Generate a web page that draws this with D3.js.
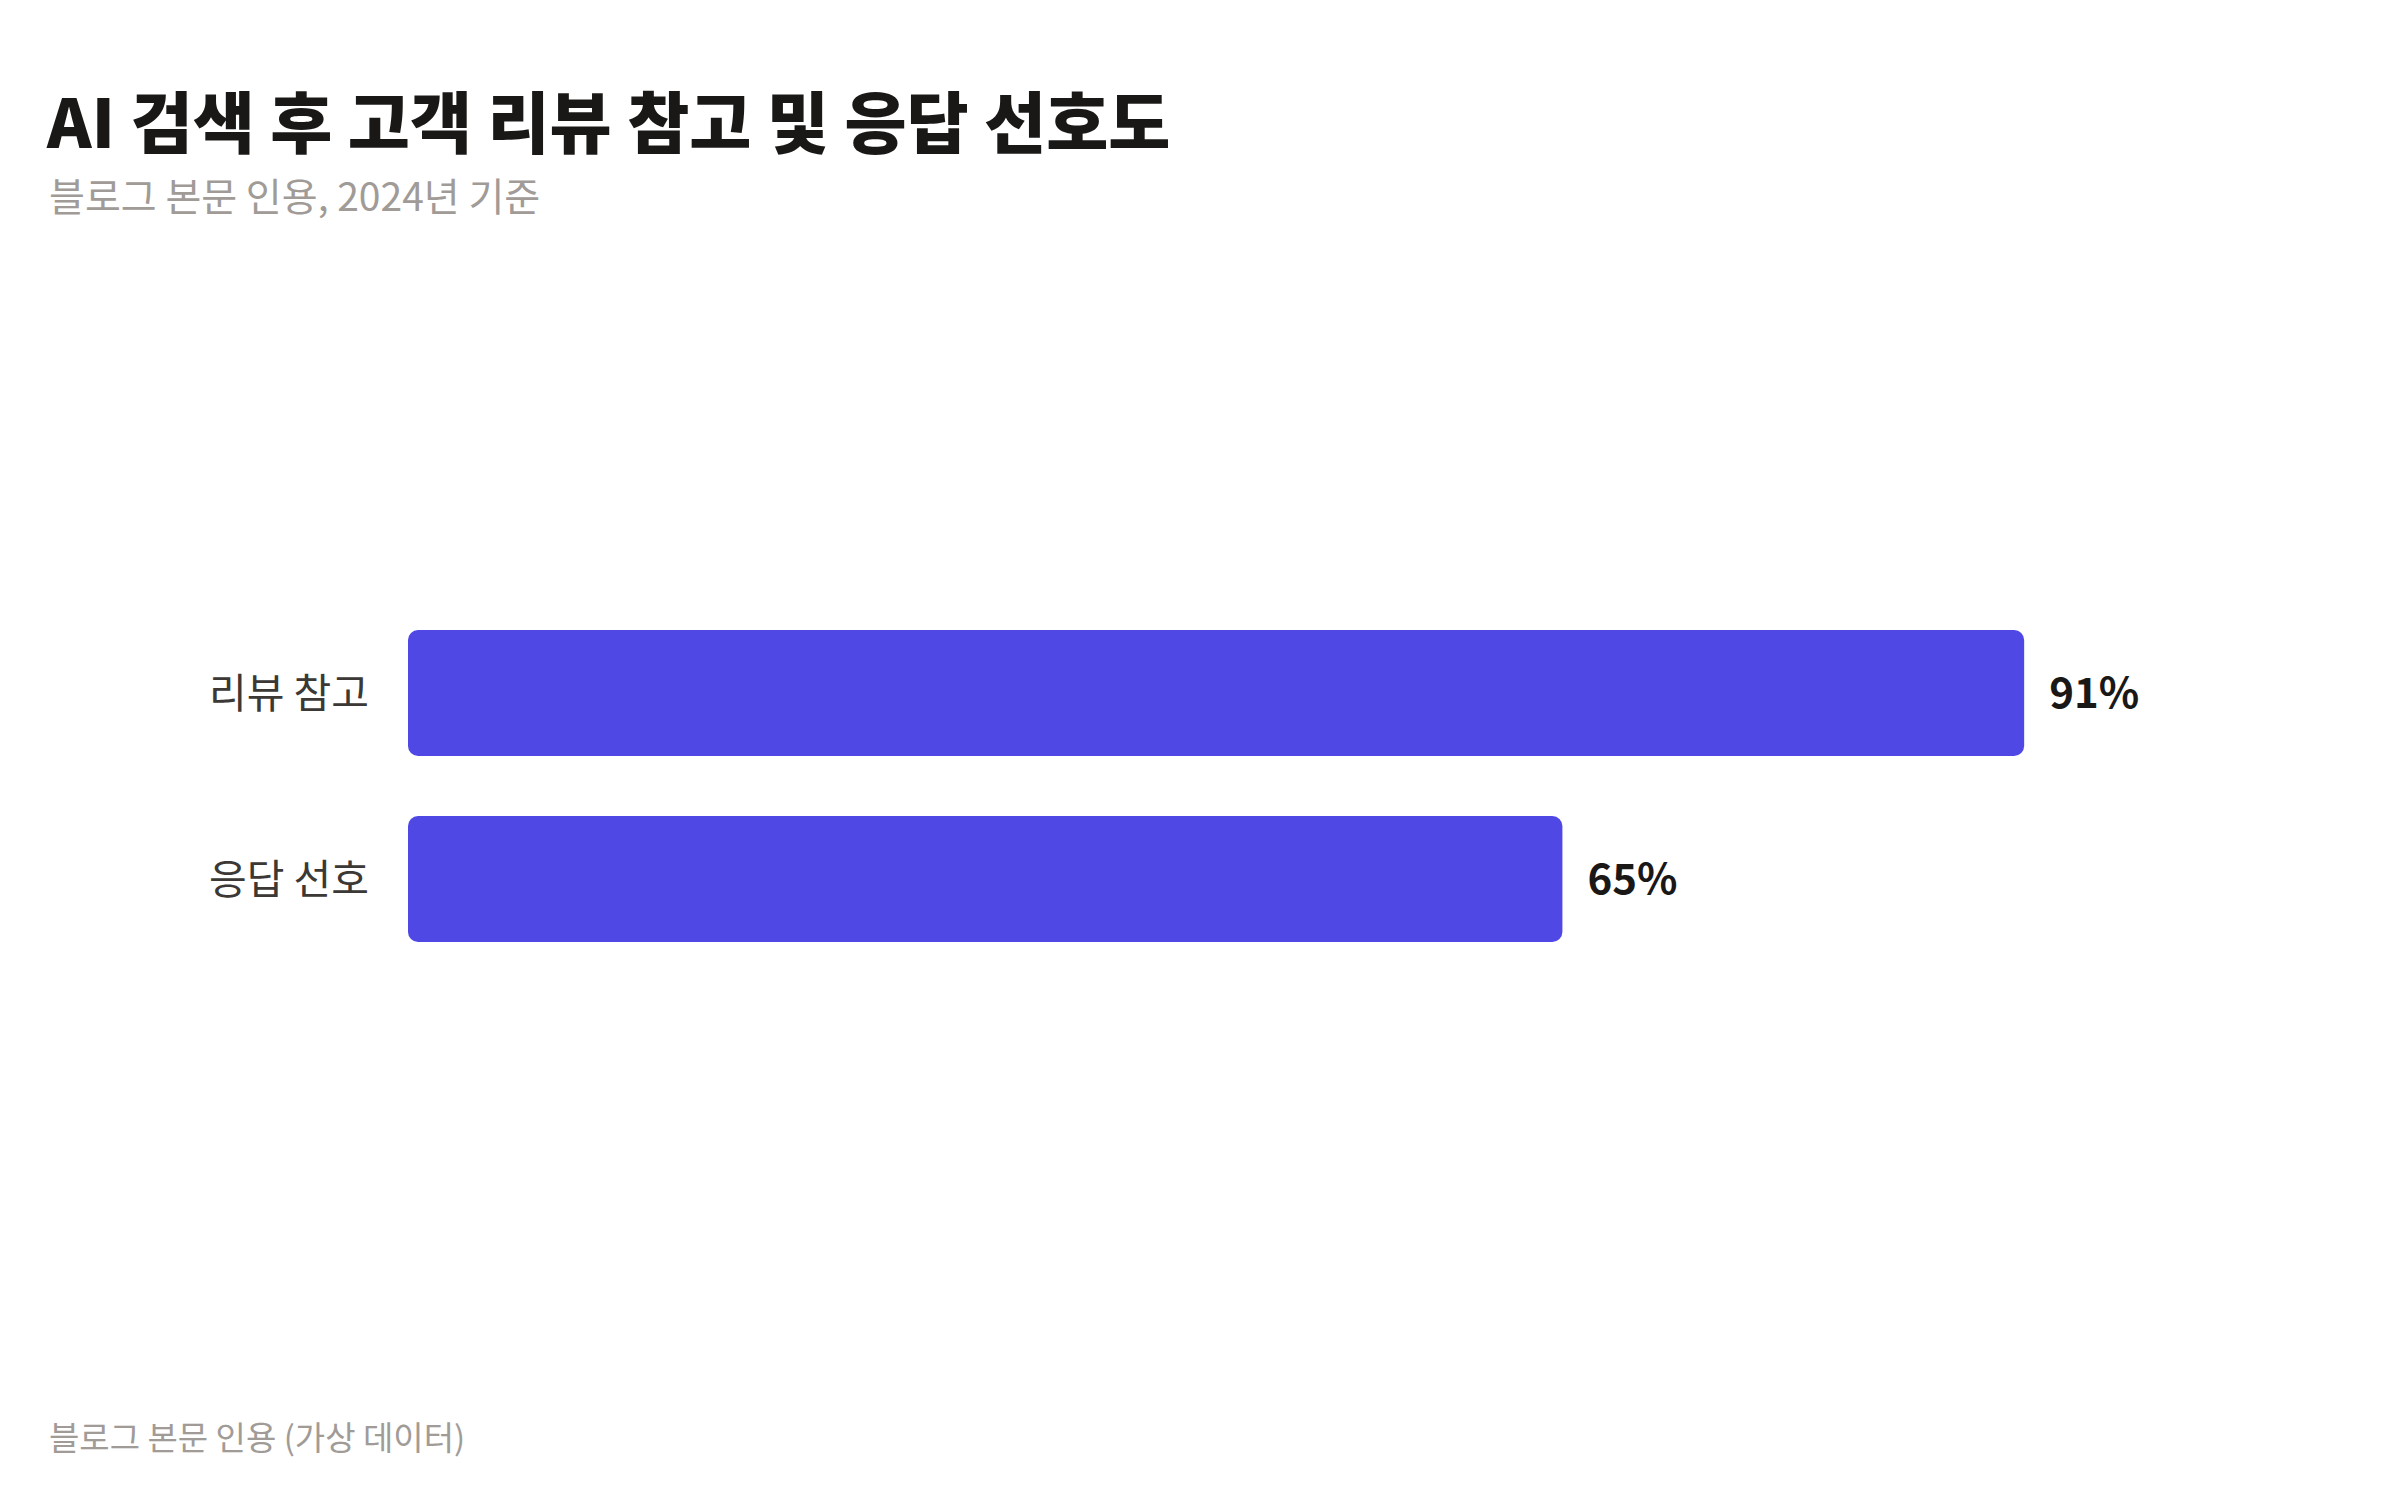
<!DOCTYPE html>
<html>
<head>
<meta charset="utf-8">
<script src="https://cdn.jsdelivr.net/npm/d3@7"></script>
<style>
  body { margin: 0; background: #fff; }
  text { font-family: "Noto Sans CJK KR", "Noto Sans", sans-serif; }
</style>
</head>
<body>
<svg id="chart"></svg>
<script>
let width = 2400;
let height = 1500;

// data
let categories = ["리뷰 참고", "응답 선호"];
let values = [91, 65];
let valueLabels = ["91%", "65%"];

let title = "AI 검색 후 고객 리뷰 참고 및 응답 선호도";
let subtitle = "블로그 본문 인용, 2024년 기준";
let footer = "블로그 본문 인용 (가상 데이터)";

let svg = d3.select("#chart")
    .attr("width", width)
    .attr("height", height)

let margin = { left: 408, right: 216 };

let x = d3.scaleLinear()
    .domain([0, 100])
    .range([margin.left, width - margin.right])

let y = d3.scaleBand()
    .domain(categories)
    .range([537, 1035])
    .paddingInner(0.3226)
    .paddingOuter(0.5)

// title block
svg.append("text")
    .attr("x", 47)
    .attr("y", 148)
    .text(title)
    .style("font-size", "67.5px")
    .style("font-weight", 900)
    .style("fill", "#1a1816")

svg.append("text")
    .attr("x", 49)
    .attr("y", 211)
    .text(subtitle)
    .style("font-size", "39px")
    .style("fill", "#a19b97")

// bars
svg.selectAll(".bar")
    .data(values)
    .join("rect")
    .attr("class", "bar")
    .attr("x", x(0))
    .attr("y", (d, i) => y(categories[i]))
    .attr("width", d => x(d) - x(0))
    .attr("height", y.bandwidth())
    .attr("rx", 10)
    .attr("fill", "#5048e5")

// category labels
svg.selectAll(".cat-label")
    .data(categories)
    .join("text")
    .attr("class", "cat-label")
    .attr("x", x(0) - 39)
    .attr("y", d => y(d) + y.bandwidth() / 2)
    .attr("dy", "0.36em")
    .attr("text-anchor", "end")
    .text(d => d)
    .style("font-size", "41px")
    .style("fill", "#3b3835")

// value labels
svg.selectAll(".val-label")
    .data(values)
    .join("text")
    .attr("class", "val-label")
    .attr("x", d => x(d) + 25)
    .attr("y", (d, i) => y(categories[i]) + y.bandwidth() / 2)
    .attr("dy", "0.36em")
    .text((d, i) => valueLabels[i])
    .style("font-size", "42px")
    .style("font-weight", 700)
    .style("fill", "#1a1816")

svg.append("text")
    .attr("x", 49)
    .attr("y", 1450)
    .text(footer)
    .style("font-size", "33px")
    .style("fill", "#a19b97")
</script>
</body>
</html>
